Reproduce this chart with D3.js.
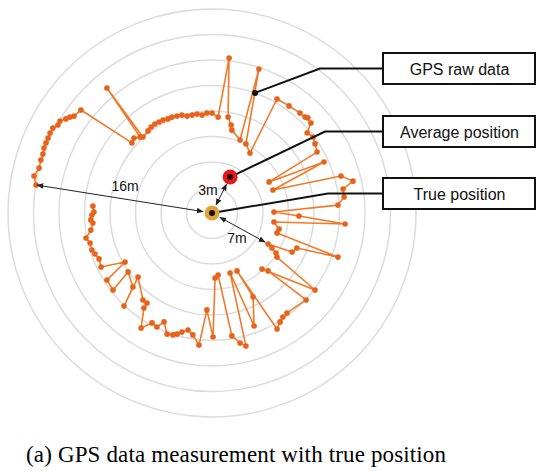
<!DOCTYPE html>
<html>
<head>
<meta charset="utf-8">
<script src="https://cdn.jsdelivr.net/npm/d3@7"></script>
<style>
  body { margin: 0; background: #fff; }
  svg { display: block; }
</style>
</head>
<body>
<svg width="536" height="471"></svg>
<script>
// positions in grid-ring units, east / north of the true position
var gpsEast = [-6.90,-6.98,-6.78,-6.71,-6.63,-6.59,-6.51,-6.43,-6.35,-6.24,-6.04,-5.96,-5.73,-5.57,-5.41,-5.14,
  -3.14,-3.06,-2.82,-4.12,-2.71,-2.51,-2.39,-2.24,-2.08,-1.92,-1.73,-1.57,-1.37,-1.18,-0.98,-0.78,-0.59,-0.39,-0.20,0.00,0.24,
  0.67,0.63,0.75,0.78,1.10,1.84,1.33,1.49,2.55,3.02,3.45,3.65,3.76,3.88,3.73,3.96,4.04,4.12,
  2.24,4.39,2.39,5.06,5.53,5.14,5.18,4.94,2.43,3.41,5.22,2.43,2.63,2.55,4.94,3.33,3.14,2.20,2.35,2.51,2.55,
  4.04,1.96,2.20,3.69,2.94,2.78,2.67,2.55,0.98,1.61,1.65,0.71,1.33,1.10,0.78,0.24,0.12,0.04,-0.20,
  -0.51,-0.75,-0.94,-1.18,-1.37,-1.53,-1.76,-1.88,-2.16,-2.35,-2.78,-2.67,-2.55,-2.71,-2.90,-3.45,-3.10,-3.29,
  -3.88,-4.12,-3.41,-4.35,-4.43,-4.59,-4.71,-4.78,-4.94,-4.75,-4.67,-4.75,-4.71,-4.63,-4.67];
var gpsNorth = [1.10,1.45,1.76,2.08,2.31,2.55,2.75,2.94,3.14,3.33,3.45,3.61,3.69,3.76,3.80,4.04,
  2.75,2.94,2.98,4.90,2.98,3.22,3.37,3.49,3.57,3.65,3.69,3.76,3.80,3.84,3.80,3.84,3.88,3.84,3.92,3.92,3.76,
  6.08,3.76,3.45,3.25,2.86,5.65,2.71,2.35,4.47,4.20,3.92,3.76,3.73,3.53,3.14,2.98,2.71,2.39,
  1.22,2.00,0.90,1.45,1.25,0.94,0.63,0.31,0.04,-0.12,-0.43,-0.35,-0.63,-0.78,-1.73,-1.37,-1.53,-1.22,-1.37,-1.57,-1.73,
  -3.02,-2.20,-2.27,-3.41,-3.92,-4.08,-4.27,-4.55,-2.27,-3.29,-4.43,-2.35,-5.22,-5.10,-4.82,-2.43,-2.55,-4.86,-3.80,
  -5.18,-4.78,-4.59,-4.67,-4.75,-4.78,-4.75,-4.27,-4.47,-4.31,-4.51,-3.73,-3.53,-3.41,-2.51,-3.65,-2.90,-2.31,
  -3.02,-2.63,-1.92,-2.12,-1.80,-1.61,-1.45,-1.18,-0.98,-0.67,-0.39,-0.27,-0.08,0.04,0.27];

var rings = [1, 2, 3, 4, 5, 6, 7, 8];
var truePos = [0, 0];
var avgPos = [0.71, 1.41];
var gpsLabelPoint = [1.69, 4.71];
var sevenEnd = [2.08, -1.14];

var labels = ["GPS raw data", "Average position", "True position"];
var distLabels = ["16m", "3m", "7m"];
var caption = "(a) GPS data measurement with true position";

var data = gpsEast.map(function(e, i) { return { e: e, n: gpsNorth[i] }; });

var svg = d3.select("svg");
var cx = 212, cy = 213, ringPx = 25.5;
var x = d3.scaleLinear().domain([-1, 1]).range([cx - ringPx, cx + ringPx]);
var y = d3.scaleLinear().domain([-1, 1]).range([cy + ringPx, cy - ringPx]);

var defs = svg.append("defs");
defs.append("marker")
  .attr("id", "arr")
  .attr("viewBox", "0 0 10 10")
  .attr("refX", 9).attr("refY", 5)
  .attr("markerWidth", 7).attr("markerHeight", 7)
  .attr("orient", "auto-start-reverse")
  .append("path")
  .attr("d", "M0,1 L10,5 L0,9 z")
  .attr("fill", "#222");

// rings
svg.append("g").selectAll("circle")
  .data(rings)
  .enter().append("circle")
  .attr("cx", x(0)).attr("cy", y(0))
  .attr("r", function(d) { return x(d) - x(0); })
  .attr("fill", "none")
  .attr("stroke", "#dcdcdc")
  .attr("stroke-width", 1.5);

// gps track
var line = d3.line()
  .x(function(d) { return x(d.e); })
  .y(function(d) { return y(d.n); });

svg.append("path")
  .datum(data)
  .attr("fill", "none")
  .attr("stroke", "#f07a2a")
  .attr("stroke-width", 1.6)
  .attr("stroke-linejoin", "round")
  .attr("d", line);

svg.append("g").selectAll("circle")
  .data(data)
  .enter().append("circle")
  .attr("cx", function(d) { return x(d.e); })
  .attr("cy", function(d) { return y(d.n); })
  .attr("r", 2.8)
  .attr("fill", "#e8621a");

// distance arrows
function shorten(a, b, da, db) {
  var dx = b[0] - a[0], dy = b[1] - a[1], len = Math.sqrt(dx * dx + dy * dy);
  return [a[0] + dx / len * da, a[1] + dy / len * da, b[0] - dx / len * db, b[1] - dy / len * db];
}
var arrows = [
  [[x(gpsEast[0]), y(gpsNorth[0])], [x(truePos[0]), y(truePos[1])], 1, 9],
  [[x(truePos[0]), y(truePos[1])], [x(avgPos[0]), y(avgPos[1])], 9, 8],
  [[x(truePos[0]), y(truePos[1])], [x(sevenEnd[0]), y(sevenEnd[1])], 9, 0]
];
arrows.forEach(function(a) {
  var s = shorten(a[0], a[1], a[2], a[3]);
  svg.append("line")
    .attr("x1", s[0]).attr("y1", s[1]).attr("x2", s[2]).attr("y2", s[3])
    .attr("stroke", "#222").attr("stroke-width", 1)
    .attr("marker-start", "url(#arr)")
    .attr("marker-end", "url(#arr)");
});

svg.selectAll(".dist")
  .data(distLabels)
  .enter().append("text")
  .attr("x", function(d, i) { return [125, 208, 237][i]; })
  .attr("y", function(d, i) { return [191, 195, 243][i]; })
  .attr("text-anchor", "middle")
  .attr("font-family", "Liberation Sans, Arial, sans-serif")
  .attr("font-size", 14)
  .attr("fill", "#111")
  .text(function(d) { return d; });

// leaders and boxes
var boxX = 383, boxW = 153, boxH = 31;
var boxY = [53, 116, 178];
var elbowX = [320, 325, 328];
var targets = [gpsLabelPoint, avgPos, truePos];

targets.forEach(function(t, i) {
  var my = boxY[i] + boxH / 2;
  svg.append("path")
    .attr("d", "M" + boxX + "," + my + "H" + elbowX[i] + "L" + x(t[0]) + "," + y(t[1]))
    .attr("fill", "none")
    .attr("stroke", "#111")
    .attr("stroke-width", 2);
});

svg.append("circle")
  .attr("cx", x(gpsLabelPoint[0])).attr("cy", y(gpsLabelPoint[1]))
  .attr("r", 3).attr("fill", "#111");

// average and true positions
svg.append("circle")
  .attr("cx", x(avgPos[0])).attr("cy", y(avgPos[1]))
  .attr("r", 7.5).attr("fill", "#e3191c");
svg.append("circle")
  .attr("cx", x(avgPos[0])).attr("cy", y(avgPos[1]))
  .attr("r", 3).attr("fill", "#2a0000");

svg.append("circle")
  .attr("cx", x(truePos[0])).attr("cy", y(truePos[1]))
  .attr("r", 7.5).attr("fill", "#e0a23a");
svg.append("circle")
  .attr("cx", x(truePos[0])).attr("cy", y(truePos[1]))
  .attr("r", 3).attr("fill", "#111");

var box = svg.append("g").selectAll("g")
  .data(labels)
  .enter().append("g");
box.append("rect")
  .attr("x", boxX).attr("y", function(d, i) { return boxY[i]; })
  .attr("width", boxW - 1).attr("height", boxH)
  .attr("fill", "#fff")
  .attr("stroke", "#111")
  .attr("stroke-width", 2);
box.append("text")
  .attr("x", boxX + boxW / 2)
  .attr("y", function(d, i) { return boxY[i] + boxH / 2 + 6; })
  .attr("text-anchor", "middle")
  .attr("font-family", "Liberation Sans, Arial, sans-serif")
  .attr("font-size", 16)
  .attr("fill", "#111")
  .text(function(d) { return d; });

svg.append("text")
  .attr("x", 26).attr("y", 462)
  .attr("font-family", "Liberation Serif, Times New Roman, serif")
  .attr("font-size", 23)
  .attr("textLength", 420)
  .attr("lengthAdjust", "spacing")
  .attr("fill", "#000")
  .text(caption);
</script>
</body>
</html>
